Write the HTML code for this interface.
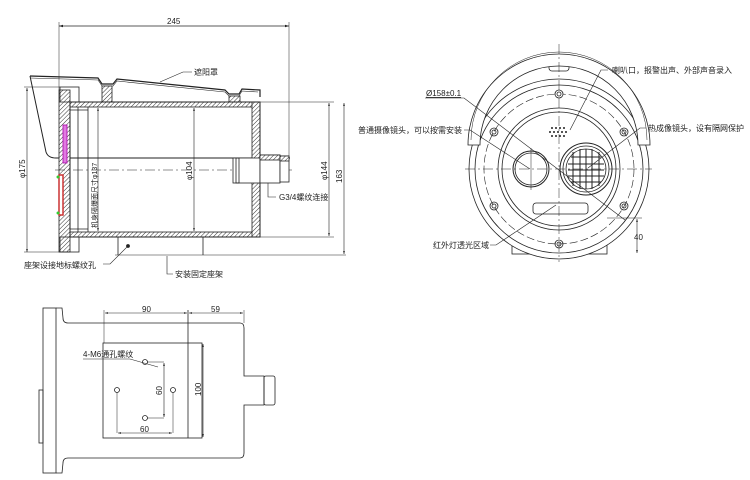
<!DOCTYPE html>
<html><head><meta charset="utf-8"><style>
html,body{margin:0;padding:0;background:#fff;}
svg{display:block;}
text{font-family:"Liberation Sans","Noto Sans CJK SC",sans-serif;fill:#222;}
</style></head><body>
<svg width="750" height="480" viewBox="0 0 750 480" xmlns="http://www.w3.org/2000/svg">
<defs>
<pattern id="h" width="3" height="3" patternUnits="userSpaceOnUse" patternTransform="rotate(45)">
<rect width="3" height="3" fill="#fff"/><line x1="0" y1="0" x2="0" y2="3" stroke="#333" stroke-width="1"/></pattern>
<marker id="a" markerWidth="6" markerHeight="6" refX="5" refY="3" orient="auto-start-reverse"><path d="M0,1.5 L5,3 L0,4.5z" fill="#222"/></marker>
</defs>
<g stroke="#222" stroke-width="0.8" fill="none">
<!-- ===== side view ===== -->
<line x1="59" y1="26" x2="289" y2="26" marker-start="url(#a)" marker-end="url(#a)"/>
<line x1="59" y1="22" x2="59" y2="90" stroke-width="0.5"/>
<line x1="289" y1="22" x2="289" y2="160" stroke-width="0.5"/>
<path d="M30,76 L98,78 L102,84 L113,84 L117,79 L225,90 L229,94 L239,94 L242,89 L260,90 L260,97" stroke-width="1.2"/>
<path d="M30,78 L98,80 L102,86 L113,86 L117,81 L225,92 L229,96 L239,96 L242,91 L258,92" stroke-width="0.6"/>
<path d="M30,76 L46,152 Q48,158 56,158 L290,158" stroke-width="1"/>
<rect x="102" y="86" width="10" height="16" fill="url(#h)"/>
<rect x="229" y="96" width="11" height="6" fill="url(#h)"/>
<rect x="59" y="90" width="11" height="162" fill="url(#h)"/>
<rect x="60" y="87" width="19" height="15" />
<rect x="60" y="237" width="19" height="15" />
<rect x="63" y="125" width="4" height="38" fill="#e07be0" stroke="#a0a"/>
<rect x="59" y="175" width="4" height="40" fill="#fff" stroke="#c33" stroke-width="1.5"/>
<circle cx="58" cy="177" r="1.5" fill="#3c3" stroke="none"/><circle cx="58" cy="213" r="1.5" fill="#3c3" stroke="none"/>
<rect x="70" y="102" width="190" height="5" fill="url(#h)"/>
<rect x="70" y="232" width="190" height="5" fill="url(#h)"/>
<rect x="252" y="102" width="8" height="135" fill="url(#h)"/>
<rect x="70" y="102" width="190" height="135" stroke-width="1"/>
<line x1="78" y1="107" x2="78" y2="232"/>
<line x1="88" y1="107" x2="88" y2="232"/>
<line x1="70" y1="110" x2="88" y2="110"/><line x1="70" y1="229" x2="88" y2="229"/>
<line x1="55" y1="170" x2="292" y2="170" stroke-dasharray="10,3,2,3" stroke-width="0.6"/>
<rect x="233" y="158" width="27" height="25" fill="#fff"/>
<rect x="236" y="158" width="3" height="25"/>
<rect x="260" y="155" width="20" height="28" fill="#fff"/>
<rect x="260" y="155" width="20" height="5" fill="url(#h)"/>
<rect x="280" y="156" width="9" height="26" fill="#fff"/>
<rect x="280" y="156" width="9" height="5" fill="url(#h)"/>
<line x1="98" y1="108" x2="98" y2="231" marker-start="url(#a)" marker-end="url(#a)" stroke-width="0.6"/>
<line x1="194" y1="108" x2="194" y2="231" marker-start="url(#a)" marker-end="url(#a)" stroke-width="0.6"/>
<line x1="27" y1="88" x2="27" y2="252" marker-start="url(#a)" marker-end="url(#a)" stroke-width="0.6"/>
<line x1="24" y1="87" x2="60" y2="87" stroke-width="0.5"/><line x1="24" y1="252" x2="60" y2="252" stroke-width="0.5"/>
<line x1="260" y1="102" x2="334" y2="102" stroke-width="0.5"/><line x1="260" y1="237" x2="334" y2="237" stroke-width="0.5"/>
<line x1="329" y1="103" x2="329" y2="236" marker-start="url(#a)" marker-end="url(#a)" stroke-width="0.6"/>
<line x1="344" y1="103" x2="344" y2="254" marker-start="url(#a)" marker-end="url(#a)" stroke-width="0.6"/>
<line x1="118" y1="237" x2="118" y2="255"/><line x1="203" y1="237" x2="203" y2="255"/>
<line x1="115" y1="255" x2="346" y2="255" stroke-width="0.6"/>
<path d="M160,82 L183,72 L192,72" stroke-width="0.6"/>
<path d="M268,183 L268,197 L276,197" stroke-width="0.6"/>
<path d="M128,246 L110,264 L103,264" stroke-width="0.6"/><circle cx="128" cy="246" r="1.5" fill="#222"/>
<path d="M167,256 L167,274 L173,274" stroke-width="0.6"/>
</g>
<g font-size="8">
<text x="167" y="24">245</text>
<text x="194" y="75">遮阳罩</text>
<text x="279" y="200">G3/4螺纹连接</text>
<text x="24" y="268">座架设接地标螺纹孔</text>
<text x="175" y="277">安装固定座架</text>
<text transform="translate(25,178) rotate(-90)">φ175</text>
<text transform="translate(97,228) rotate(-90)" font-size="7">机身隔爆面尺寸φ137</text>
<text transform="translate(192,180) rotate(-90)">φ104</text>
<text transform="translate(327,180) rotate(-90)">φ144</text>
<text transform="translate(342,183) rotate(-90)">163</text>
</g>

<!-- ===== front view ===== -->
<g stroke="#222" stroke-width="0.8" fill="none">
<rect x="549" y="62" width="20" height="9" rx="3"/>
<rect x="512" y="218" width="95" height="36" fill="#fff"/>
<circle cx="559" cy="169" r="90" fill="#fff"/>
<circle cx="559" cy="169" r="84"/>
<circle cx="559" cy="169" r="75" stroke-dasharray="8,3" stroke-width="0.6"/>
<circle cx="559" cy="169" r="61"/>
<circle cx="559" cy="169" r="57"/>
<path d="M468,145 A91,91 0 0 1 650,145 L638,145 A79,79 0 0 0 480,145 Z" fill="#fff"/>
<path d="M471,140 A88,88 0 0 1 647,140" stroke-width="0.5"/>
<line x1="559" y1="44" x2="559" y2="262" stroke-dasharray="10,3,2,3" stroke-width="0.5"/>
<line x1="465" y1="169" x2="652" y2="169" stroke-dasharray="10,3,2,3" stroke-width="0.5"/>
<g>
<circle cx="559" cy="94" r="4" fill="#fff"/><circle cx="559" cy="94" r="2"/>
<circle cx="494" cy="132" r="4"/><circle cx="494" cy="132" r="2"/>
<circle cx="624" cy="132" r="4"/><circle cx="624" cy="132" r="2"/>
<circle cx="494" cy="206" r="4"/><circle cx="494" cy="206" r="2"/>
<circle cx="624" cy="206" r="4"/><circle cx="624" cy="206" r="2"/>
<circle cx="559" cy="244" r="4"/><circle cx="559" cy="244" r="2"/>
</g>
<circle cx="531" cy="169" r="18" stroke-width="1"/><circle cx="531" cy="169" r="16"/>
<line x1="531" y1="148" x2="531" y2="190" stroke-width="0.5"/>
<circle cx="586" cy="169" r="26" stroke-width="1"/><circle cx="586" cy="169" r="23"/><circle cx="586" cy="169" r="20"/>
<path d="M571,157 H601 M568,164 H604 M568,170 H604 M568,176 H604 M571,182 H601 M573,152 V186 M580,149 V189 M586,149 V189 M592,149 V189 M599,152 V186" stroke-width="1"/>
<rect x="533" y="203" width="55" height="11" rx="3"/>
<line x1="637" y1="219" x2="637" y2="253" marker-start="url(#a)" marker-end="url(#a)" stroke-width="0.6"/>
<line x1="607" y1="218" x2="642" y2="218" stroke-width="0.5"/>
<path d="M425,98 L464,98 L625,220" stroke-width="0.6"/>
<path d="M464,130 L470,130 L530,169" stroke-width="0.6"/>
<path d="M608,70 L601,70 L570,130" stroke-width="0.6"/>
<path d="M646,128 L640,128 L588,168" stroke-width="0.6"/>
<path d="M490,245 L496,245 L556,205" stroke-width="0.6"/>
</g>
<g fill="#222">
<circle cx="552" cy="128" r="1"/><circle cx="556" cy="128" r="1"/><circle cx="560" cy="128" r="1"/><circle cx="564" cy="128" r="1"/>
<circle cx="550" cy="132" r="1"/><circle cx="554" cy="132" r="1"/><circle cx="558" cy="132" r="1"/><circle cx="562" cy="132" r="1"/><circle cx="566" cy="132" r="1"/>
<circle cx="552" cy="136" r="1"/><circle cx="556" cy="136" r="1"/><circle cx="560" cy="136" r="1"/><circle cx="564" cy="136" r="1"/>
</g>
<g font-size="8">
<text x="426" y="96" text-decoration="underline">Ø158±0.1</text>
<text x="612" y="73">喇叭口，报警出声、外部声音录入</text>
<text x="462" y="133" text-anchor="end">普通摄像镜头，可以按需安装</text>
<text x="648" y="131">热成像镜头，设有隔网保护</text>
<text x="433" y="248">红外灯透光区域</text>
<text x="634" y="240">40</text>
</g>

<!-- ===== bottom view ===== -->
<g stroke="#222" stroke-width="0.8" fill="none">
<rect x="43" y="308" width="13" height="165"/>
<rect x="39" y="390" width="4" height="53"/>
<path d="M56,308 L62,308 L63,318 Q63,323 68,323 L240,323 Q244,323 244,328 L244,376 L264,376 L264,405 L244,405 L244,453 Q244,458 240,458 L68,458 Q63,458 63,463 L62,473 L56,473"/>
<rect x="264" y="376" width="11" height="29" rx="2"/>
<rect x="103" y="343" width="99" height="95"/>
<line x1="188" y1="310" x2="188" y2="438"/>
<line x1="104" y1="310" x2="104" y2="343" stroke-width="0.5"/>
<line x1="244" y1="310" x2="244" y2="323" stroke-width="0.5"/>
<line x1="105" y1="313" x2="187" y2="313" marker-start="url(#a)" marker-end="url(#a)" stroke-width="0.6"/>
<line x1="189" y1="313" x2="243" y2="313" marker-start="url(#a)" marker-end="url(#a)" stroke-width="0.6"/>
<line x1="203" y1="344" x2="203" y2="437" marker-start="url(#a)" marker-end="url(#a)" stroke-width="0.6"/>
<circle cx="145" cy="362" r="2.5"/><circle cx="117" cy="390" r="2.5"/><circle cx="173" cy="390" r="2.5"/><circle cx="145" cy="418" r="2.5"/>
<path d="M147,362 L164,362 M147,418 L164,418 M117,392 L117,433 M173,392 L173,433" stroke-width="0.5"/>
<line x1="164" y1="363" x2="164" y2="417" marker-start="url(#a)" marker-end="url(#a)" stroke-width="0.6"/>
<line x1="118" y1="433" x2="172" y2="433" marker-start="url(#a)" marker-end="url(#a)" stroke-width="0.6"/>
<path d="M83,359 L130,359 L158,367" stroke-width="0.6"/>
</g>
<g font-size="8">
<text x="142" y="312">90</text>
<text x="211" y="312">59</text>
<text x="83" y="357">4-M6通孔螺纹</text>
<text transform="translate(162,395) rotate(-90)">60</text>
<text transform="translate(201,396) rotate(-90)">100</text>
<text x="140" y="432">60</text>
</g>
</svg>
</body></html>
